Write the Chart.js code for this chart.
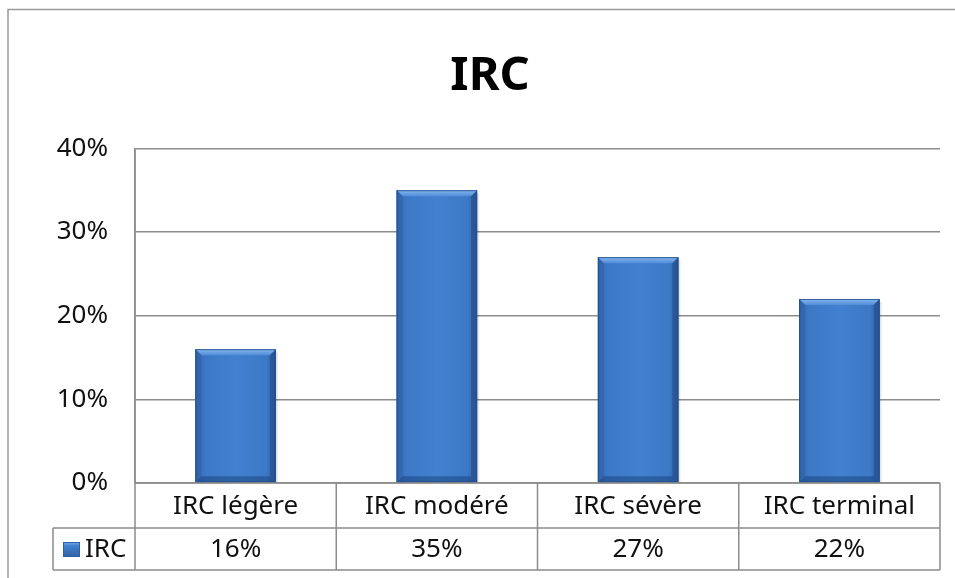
<!DOCTYPE html>
<html>
<head>
<meta charset="utf-8">
<script src="https://cdn.jsdelivr.net/npm/chart.js@4.4.1/dist/chart.umd.min.js"></script>
<style>
  html, body { margin: 0; padding: 0; background: #fff; }
  #wrap { width: 955px; height: 578px; position: relative; }
</style>
</head>
<body>
<div id="wrap"><canvas id="c" width="955" height="578"></canvas></div>
<script>
// Chart data
const categories = ['IRC légère', 'IRC modéré', 'IRC sévère', 'IRC terminal'];
const seriesName = 'IRC';
const irc = [16, 35, 27, 22];
const yTicks = [0, 10, 20, 30, 40];

const FONT = '"Noto Sans", "Open Sans", sans-serif';
const LINE = '#8c8c8c';

// Outer frame of the chart object (left and top edges)
const framePlugin = {
  id: 'frame',
  beforeDraw(chart) {
    const ctx = chart.ctx;
    ctx.save();
    ctx.strokeStyle = '#9a9a9a';
    ctx.lineWidth = 1.5;
    ctx.beginPath();
    ctx.moveTo(8, 578);
    ctx.lineTo(8, 9.5);
    ctx.lineTo(955, 9.5);
    ctx.stroke();
    ctx.restore();
  }
};

// Bevelled look on top of each bar drawn by the library
const bevelPlugin = {
  id: 'bevel',
  afterDatasetsDraw(chart) {
    const ctx = chart.ctx;
    const meta = chart.getDatasetMeta(0);
    meta.data.forEach(bar => {
      const p = bar.getProps(['x', 'y', 'base', 'width'], true);
      const l = p.x - p.width / 2, r = p.x + p.width / 2;
      const t = p.y, b = p.base;
      const bv = 6;
      ctx.save();
      // soft shadow
      ctx.fillStyle = 'rgba(0,0,0,0.10)';
      ctx.fillRect(r, t + 3, 2, b - t - 3);
      // body gradient
      const g = ctx.createLinearGradient(l, 0, r, 0);
      g.addColorStop(0, '#3266ab');
      g.addColorStop(0.12, '#3c78c6');
      g.addColorStop(0.5, '#4281d0');
      g.addColorStop(0.88, '#3c79c6');
      g.addColorStop(1, '#2e60a2');
      ctx.fillStyle = g;
      ctx.fillRect(l, t, r - l, b - t);
      // top bevel
      const gt = ctx.createLinearGradient(0, t, 0, t + bv);
      gt.addColorStop(0, '#84b7f0');
      gt.addColorStop(1, '#528dd8');
      ctx.fillStyle = gt;
      ctx.beginPath();
      ctx.moveTo(l, t); ctx.lineTo(r, t); ctx.lineTo(r - bv, t + bv); ctx.lineTo(l + bv, t + bv);
      ctx.closePath(); ctx.fill();
      // left bevel
      ctx.fillStyle = 'rgba(45,95,165,0.5)';
      ctx.beginPath();
      ctx.moveTo(l, t); ctx.lineTo(l + bv, t + bv); ctx.lineTo(l + bv, b - bv); ctx.lineTo(l, b);
      ctx.closePath(); ctx.fill();
      // right bevel
      ctx.fillStyle = 'rgba(30,70,130,0.5)';
      ctx.beginPath();
      ctx.moveTo(r, t); ctx.lineTo(r - bv, t + bv); ctx.lineTo(r - bv, b - bv); ctx.lineTo(r, b);
      ctx.closePath(); ctx.fill();
      // bottom bevel
      ctx.fillStyle = 'rgba(30,70,130,0.55)';
      ctx.beginPath();
      ctx.moveTo(l, b); ctx.lineTo(l + bv, b - bv); ctx.lineTo(r - bv, b - bv); ctx.lineTo(r, b);
      ctx.closePath(); ctx.fill();
      // outline
      ctx.strokeStyle = 'rgba(35,75,135,0.8)';
      ctx.lineWidth = 1;
      ctx.strokeRect(l + 0.5, t + 0.5, r - l - 1, b - t - 1);
      ctx.restore();
    });
  }
};

// Data table under the plot: category row and value row with legend key
const tablePlugin = {
  id: 'dataTable',
  afterDraw(chart) {
    const ctx = chart.ctx;
    const area = chart.chartArea;
    const xs = chart.scales.x;
    const n = categories.length;
    const edges = [area.left];
    for (let i = 1; i < n; i++) {
      edges.push((xs.getPixelForValue(i - 1) + xs.getPixelForValue(i)) / 2);
    }
    edges.push(area.right);
    const r0 = area.bottom, r1 = area.bottom + 45, r2 = area.bottom + 87;
    const keyLeft = 53;

    ctx.save();
    ctx.strokeStyle = LINE;
    ctx.lineWidth = 1.5;
    ctx.beginPath();
    ctx.moveTo(area.left, r0); ctx.lineTo(area.right, r0);
    ctx.moveTo(keyLeft, r1); ctx.lineTo(area.right, r1);
    ctx.moveTo(keyLeft, r2); ctx.lineTo(area.right, r2);
    edges.forEach((x, i) => {
      ctx.moveTo(x, i === 0 ? area.top : r0);
      ctx.lineTo(x, r2);
    });
    ctx.moveTo(keyLeft, r1); ctx.lineTo(keyLeft, r2);
    ctx.stroke();

    ctx.fillStyle = '#111';
    ctx.font = '26px ' + FONT;
    ctx.textAlign = 'center';
    ctx.textBaseline = 'middle';
    for (let i = 0; i < n; i++) {
      const cx = (edges[i] + edges[i + 1]) / 2;
      ctx.fillText(categories[i], cx, (r0 + r1) / 2 + 1);
      ctx.fillText(irc[i] + '%', cx, (r1 + r2) / 2 + 1);
    }

    // legend key
    const ky = (r1 + r2) / 2;
    const kg = ctx.createLinearGradient(0, ky - 8, 0, ky + 8);
    kg.addColorStop(0, '#84b7f0');
    kg.addColorStop(0.3, '#4281d0');
    kg.addColorStop(1, '#2e60a2');
    ctx.fillStyle = kg;
    ctx.fillRect(63, ky - 7, 17, 15);
    ctx.strokeStyle = '#2e60a2';
    ctx.lineWidth = 1;
    ctx.strokeRect(63.5, ky - 6.5, 16, 14);
    ctx.fillStyle = '#111';
    ctx.textAlign = 'left';
    ctx.fillText(seriesName, 85, ky + 1);
    ctx.restore();
  }
};

new Chart(document.getElementById('c'), {
  type: 'bar',
  data: {
    labels: categories,
    datasets: [{
      label: seriesName,
      data: irc,
      backgroundColor: '#3c7ac9',
      borderWidth: 0,
      barPercentage: 0.4,
      categoryPercentage: 1.0
    }]
  },
  options: {
    responsive: false,
    animation: false,
    layout: { padding: { left: 40, right: 15, top: 0, bottom: 0 } },
    plugins: {
      legend: { display: false },
      tooltip: { enabled: false },
      title: {
        display: true,
        text: 'IRC',
        color: '#000',
        font: { family: FONT, size: 47, weight: 'bold', lineHeight: 1.2 },
        padding: { top: 48, bottom: 44 }
      }
    },
    scales: {
      x: {
        grid: { display: false, drawTicks: false },
        border: { display: false },
        ticks: { display: false },
        afterFit(scale) { scale.height = 95; }
      },
      y: {
        min: 0,
        max: 40,
        afterBuildTicks(scale) { scale.ticks = yTicks.map(v => ({ value: v })); },
        afterFit(scale) { scale.width = 95; },
        grid: { color: LINE, lineWidth: 1.5, drawTicks: false },
        border: { display: true, color: LINE, width: 1.5 },
        ticks: {
          padding: 27,
          color: '#111',
          font: { family: FONT, size: 26 },
          callback: v => v + '%'
        }
      }
    }
  },
  plugins: [framePlugin, bevelPlugin, tablePlugin]
});
</script>
</body>
</html>
